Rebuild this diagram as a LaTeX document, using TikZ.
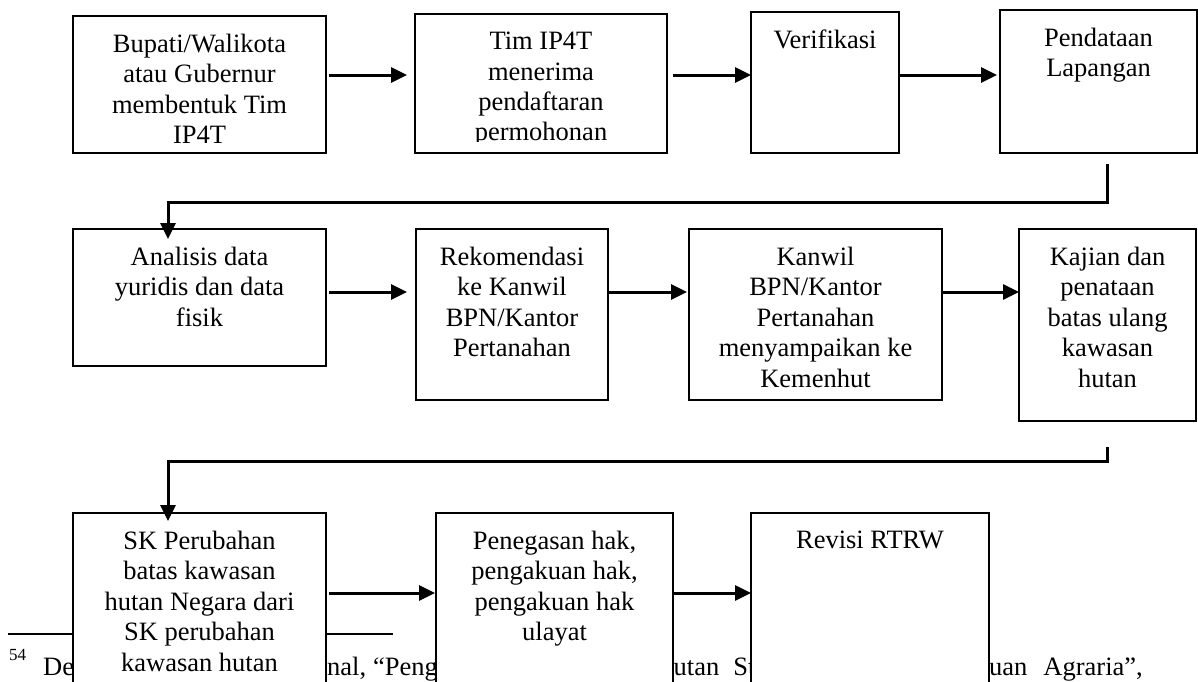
\documentclass[tikz,border=0pt]{standalone}
\usepackage{fontspec}
\setmainfont{Liberation Serif}
\usetikzlibrary{arrows.meta,calc}
\tikzset{
  box/.style={draw, line width=2pt, fill=white, rectangle, inner sep=0pt, outer sep=0pt},
  txt/.style={anchor=north, align=center, inner sep=0pt, font=\fontsize{26.5}{30.4}\selectfont},
  fn/.style={anchor=base west, inner sep=0pt, font=\fontsize{26.5}{30.4}\selectfont},
  arr/.style={line width=3pt, -{Triangle[length=16pt,width=15pt]}},
}
\begin{document}
\begin{tikzpicture}[x=1pt,y=-1pt]
\clip (0,0) rectangle (1198,681);
\fill[white] (0,0) rectangle (1198,681);
% footnote (partly hidden by the boxes)
\draw[line width=2.5pt] (8,634) -- (393,634);
\node[fn, font=\fontsize{17}{17}\selectfont] (fn0) at (9,660) {54};
\node[fn] (fn1) at (43,675) {De};
\node[fn] (fn2) at (327,675) {nal,\hspace{7pt}“Pengukuhan};
\node[fn] (fn3) at (673.5,675) {utan\hspace{14pt}Strategis};
\node[fn] (fn4) at (989,675) {uan\hspace{16pt}Agraria”,};
% boxes
\node[box, minimum width=253pt, minimum height=137pt] (A) at (199.5,84.5) {};
\node[box, minimum width=252pt, minimum height=139pt] (B) at (541,83.5) {};
\node[box, minimum width=148pt, minimum height=141pt] (C) at (825,82.5) {};
\node[box, minimum width=197pt, minimum height=143pt] (D) at (1098.5,81.5) {};
\node[box, minimum width=253pt, minimum height=137pt] (E) at (199.5,297.5) {};
\node[box, minimum width=192pt, minimum height=171pt] (F) at (512,314.5) {};
\node[box, minimum width=253pt, minimum height=171pt] (G) at (815.5,314.5) {};
\node[box, minimum width=177pt, minimum height=192pt] (H) at (1107.5,325) {};
\node[box, minimum width=253pt, minimum height=207pt] (I) at (199.5,616.5) {};
\node[box, minimum width=237pt, minimum height=207pt] (J) at (554.5,616.5) {};
\node[box, minimum width=238pt, minimum height=207pt] (K) at (870,616.5) {};
% texts
\node[txt] (tA) at (199.5,33.9) {Bupati/Walikota\\atau Gubernur\\membentuk Tim\\IP4T};
\begin{scope}
\clip (415,14) rectangle (667,141);
\node[txt] (tB) at (541,31.9) {Tim IP4T\\menerima\\pendaftaran\\permohonan};
\end{scope}
\node[txt] (tC) at (825,29.9) {Verifikasi};
\node[txt] (tD) at (1098.5,27.9) {Pendataan\\Lapangan};
\node[txt] (tE) at (199.5,246.9) {Analisis data\\yuridis dan data\\fisik};
\node[txt] (tF) at (512,246.9) {Rekomendasi\\ke Kanwil\\BPN/Kantor\\Pertanahan};
\node[txt] (tG) at (815.5,246.9) {Kanwil\\BPN/Kantor\\Pertanahan\\menyampaikan ke\\Kemenhut};
\node[txt] (tH) at (1107.5,246.9) {Kajian dan\\penataan\\batas ulang\\kawasan\\hutan};
\node[txt] (tI) at (199.5,530.9) {SK Perubahan\\batas kawasan\\hutan Negara dari\\SK perubahan\\kawasan hutan};
\node[txt] (tJ) at (554.5,530.9) {Penegasan hak,\\pengakuan hak,\\pengakuan hak\\ulayat};
\node[txt] (tK) at (870,530.9) {Revisi RTRW};
% horizontal arrows
\draw[arr, shorten <=3pt, shorten >=8pt] (A.east |- 0,75) -- (B.west |- 0,75);
\draw[arr, shorten <=6pt] (B.east |- 0,75) -- (C.west |- 0,75);
\draw[arr, shorten >=3pt] (C.east |- 0,75) -- (D.west |- 0,75);
\draw[arr, shorten <=3pt, shorten >=9pt] (E.east |- 0,292) -- (F.west |- 0,292);
\draw[arr, shorten <=1pt, shorten >=2pt] (F.east |- 0,292) -- (G.west |- 0,292);
\draw[arr] (G.east |- 0,292) -- (H.west |- 0,292);
\draw[arr, shorten <=3pt, shorten >=1pt] (I.east |- 0,593) -- (J.west |- 0,593);
\draw[arr] (J.east |- 0,593) -- (K.west |- 0,593);
% elbow connectors
\coordinate (d1) at (1107,164);
\coordinate (e1) at ($(E.north west)+(95,10)$);
\draw[arr] (d1) -- (d1 |- 0,202) -| (e1);
\coordinate (h1) at (1107,447);
\coordinate (i1) at ($(I.north west)+(95,8)$);
\draw[arr] (h1) -- (h1 |- 0,461) -| (i1);
\end{tikzpicture}
\end{document}
